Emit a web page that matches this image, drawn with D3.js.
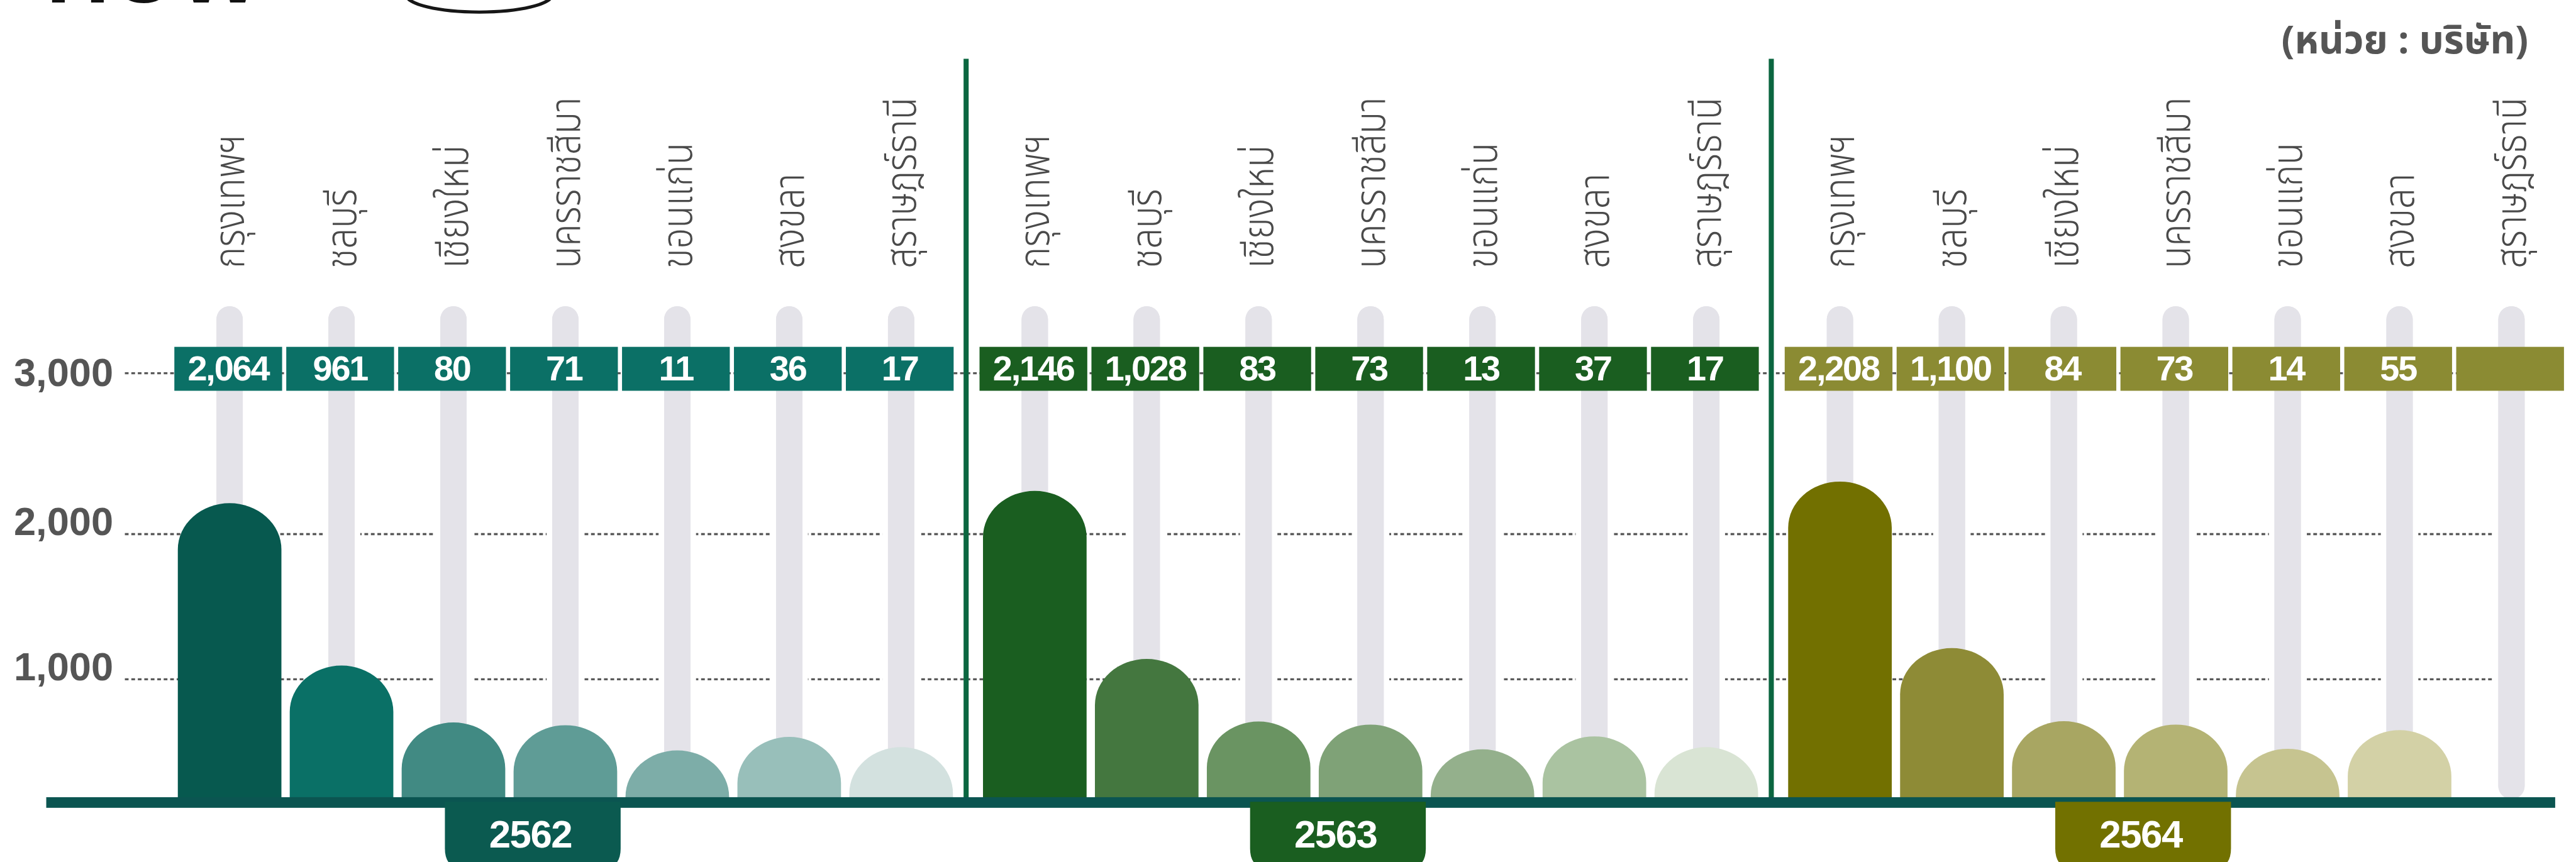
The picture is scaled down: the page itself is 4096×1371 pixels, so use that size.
<!DOCTYPE html>
<html>
<head>
<meta charset="utf-8">
<script src="https://cdn.jsdelivr.net/npm/d3@7"></script>
<style>
  html, body { margin: 0; padding: 0; background: #ffffff; overflow: hidden; }
  svg { display: block; }
</style>
</head>
<body>
<svg id="chart" width="4096" height="1371" viewBox="0 0 5570 1864"></svg>
<script>
// ---------- data ----------
const years = ["2562", "2563", "2564"];
const provinces = ["กรุงเทพฯ", "ชลบุรี", "เชียงใหม่", "นครราชสีมา", "ขอนแก่น", "สงขลา", "สุราษฎร์ธานี"];
const values2562 = [2064, 961, 80, 71, 11, 36, 17];
const values2563 = [2146, 1028, 83, 73, 13, 37, 17];
const values2564 = [2208, 1100, 84, 73, 14, 55, null];
const yTicks = [3000, 2000, 1000];
const unitLabel = "(หน่วย : บริษัท)";
const titleFragment = "HOW";

// ---------- style ----------
const boxColors = { "2562": "#0b7066", "2563": "#1a5e20", "2564": "#8b8b33" };
const tabColors = { "2562": "#0b5a50", "2563": "#1a5e20", "2564": "#727100" };
const barColors = {
  "2562": ["#07594f", "#0a7066", "#418a83", "#5f9c96", "#7dada8", "#98bfba", "#d3e1df"],
  "2563": ["#1a5e20", "#44773f", "#6a9462", "#7fa277", "#94b08c", "#aac3a1", "#d9e4d4"],
  "2564": ["#727000", "#8e8b36", "#a8a662", "#b4b374", "#c6c490", "#d3d1a6", "#eeeeee"]
};
const seriesByYear = { "2562": values2562, "2563": values2563, "2564": values2564 };
const thaiFont = "'Noto Sans Thai', 'Noto Sans Thai UI', 'Noto Looped Thai', Loma, Garuda, 'Noto Sans', sans-serif";
const numFont = "'Liberation Sans', Arial, Helvetica, sans-serif";

const svg = d3.select("#chart");
svg.append("rect").attr("width", 5570).attr("height", 1864).attr("fill", "#ffffff");

// ---------- scales ----------
const baseY = 1724;
const xYear = d3.scaleBand().domain(years).range([377, 377 + 3 * 1741]).paddingInner(0);
const xCat = d3.scaleBand().domain(provinces).range([0, 1685]).paddingInner(9 / 242);
const cx = (yr, p) => xYear(yr) + xCat(p) + xCat.bandwidth() / 2 + 3;
// display height of each bar (the infographic is not strictly linear)
const hScale = d3.scaleLinear()
  .domain([0, 10, 40, 85, 1000, 2200])
  .range([90, 100, 135, 165, 290, 680]);
const gridY = d3.scaleLinear().domain([1000, 2000, 3000]).range([1469, 1155, 807]);

// ---------- title fragment & badge (cropped at top, as in the source) ----------
svg.append("text")
  .attr("x", 100).attr("y", 5)
  .attr("font-family", numFont).attr("font-weight", 700)
  .attr("font-size", 190).attr("fill", "#111")
  .text(titleFragment);
svg.append("ellipse")
  .attr("cx", 1036).attr("cy", -12).attr("rx", 158).attr("ry", 38)
  .attr("fill", "none").attr("stroke", "#161616").attr("stroke-width", 7);

// unit label
svg.append("text")
  .attr("x", 5467).attr("y", 116)
  .attr("text-anchor", "end")
  .attr("font-family", thaiFont).attr("font-weight", 700)
  .attr("font-size", 84).attr("fill", "#555555")
  .text(unitLabel);

// ---------- gridlines (1000, 2000) ----------
const gridG = svg.append("g");
gridG.selectAll("line.grid")
  .data(yTicks.filter(d => d !== 3000))
  .join("line")
  .attr("x1", 270).attr("x2", 5470)
  .attr("y1", d => gridY(d)).attr("y2", d => gridY(d))
  .attr("stroke", "#5a5a5a").attr("stroke-width", 4.5)
  .attr("stroke-dasharray", "8 6");

// ---------- tracks ----------
const all = [];
years.forEach(yr => provinces.forEach((p, i) => all.push({ yr, p, i, v: seriesByYear[yr][i] })));

svg.append("g").selectAll("rect.track")
  .data(all)
  .join("rect")
  .attr("x", d => cx(d.yr, d.p) - 28.5)
  .attr("width", 57)
  .attr("y", 662)
  .attr("height", baseY - 662 + 4)
  .attr("rx", 28.5)
  .attr("fill", "#e4e3e9")
  .attr("stroke", "#ffffff").attr("stroke-width", 24)
  .attr("paint-order", "stroke");
svg.append("g").selectAll("rect.track2")
  .data(all)
  .join("rect")
  .attr("x", d => cx(d.yr, d.p) - 28.5)
  .attr("width", 57)
  .attr("y", 662)
  .attr("height", baseY - 662 + 4)
  .attr("rx", 28.5)
  .attr("fill", "#e4e3e9");

// ---------- 3000 line ----------
svg.append("line")
  .attr("x1", 270).attr("x2", 5540)
  .attr("y1", gridY(3000)).attr("y2", gridY(3000))
  .attr("stroke", "#5a5a5a").attr("stroke-width", 4.5)
  .attr("stroke-dasharray", "8 6");

// ---------- value boxes ----------
const boxG = svg.append("g");
boxG.selectAll("rect.box")
  .data(all)
  .join("rect")
  .attr("x", d => xYear(d.yr) + xCat(d.p))
  .attr("width", xCat.bandwidth())
  .attr("y", 750).attr("height", 95)
  .attr("fill", d => boxColors[d.yr]);
boxG.selectAll("text.val")
  .data(all.filter(d => d.v != null))
  .join("text")
  .attr("x", d => cx(d.yr, d.p) - 3)
  .attr("y", 823)
  .attr("text-anchor", "middle")
  .attr("font-family", numFont).attr("font-weight", 700)
  .attr("font-size", 76).attr("fill", "#ffffff")
  .attr("letter-spacing", -3)
  .text(d => d3.format(",")(d.v));

// ---------- bars ----------
function barPath(x, w, h) {
  const rx = w / 2;
  const ry = Math.min(100, h);
  const top = baseY - h;
  return `M${x},${baseY} L${x},${top + ry} A${rx},${ry} 0 0 1 ${x + w},${top + ry} L${x + w},${baseY} Z`;
}
svg.append("g").selectAll("path.bar")
  .data(all.filter(d => d.v != null))
  .join("path")
  .attr("d", d => barPath(cx(d.yr, d.p) - 112, 224, hScale(d.v)))
  .attr("fill", d => barColors[d.yr][d.i]);

// ---------- dividers ----------
svg.append("g").selectAll("line.div")
  .data(years.slice(1))
  .join("line")
  .attr("x1", d => xYear(d) - 29).attr("x2", d => xYear(d) - 29)
  .attr("y1", 127).attr("y2", baseY)
  .attr("stroke", "#0b6640").attr("stroke-width", 11);

// ---------- baseline ----------
svg.append("rect")
  .attr("x", 100).attr("width", 5425)
  .attr("y", baseY).attr("height", 23)
  .attr("fill", "#0b5551");

// ---------- year tabs ----------
const tabG = svg.append("g").selectAll("g.tab").data(years).join("g")
  .attr("transform", d => `translate(${xYear(d) + 842 - 67},0)`);
tabG.append("path")
  .attr("d", () => {
    const w = 380, r = 45, y0 = baseY + 10, y1 = 1880;
    return `M${-w / 2},${y0} L${w / 2},${y0} L${w / 2},${y1 - r} Q${w / 2},${y1} ${w / 2 - r},${y1} L${-w / 2 + r},${y1} Q${-w / 2},${y1} ${-w / 2},${y1 - r} Z`;
  })
  .attr("fill", d => tabColors[d]);
tabG.append("text")
  .attr("x", -5).attr("y", 1833)
  .attr("text-anchor", "middle")
  .attr("font-family", numFont).attr("font-weight", 700)
  .attr("font-size", 84).attr("fill", "#ffffff")
  .attr("letter-spacing", -2)
  .text(d => d);

// ---------- y-axis labels ----------
svg.append("g").selectAll("text.ytick")
  .data(yTicks)
  .join("text")
  .attr("x", 245)
  .attr("y", d => gridY(d) + (d === 3000 ? 28 : 2))
  .attr("text-anchor", "end")
  .attr("font-family", numFont).attr("font-weight", 700)
  .attr("font-size", 86).attr("fill", "#555555")
  .text(d => d3.format(",")(d));

// ---------- province labels (rotated) ----------
const labG = svg.append("g");
const labs = labG.selectAll("text.cat")
  .data(all)
  .join("text")
  .attr("font-family", thaiFont).attr("font-weight", 300)
  .attr("font-size", 92).attr("fill", "#4a4a4a")
  .text(d => d.p);
let natural = 0;
labs.each(function (d) { if (d.p === provinces[0] && !natural) natural = this.getComputedTextLength(); });
const sx = natural > 0 ? 290 / natural : 1;
labs.attr("transform", d => `translate(${cx(d.yr, d.p) + 31},580) rotate(-90) scale(${sx},1)`);
</script>
</body>
</html>
